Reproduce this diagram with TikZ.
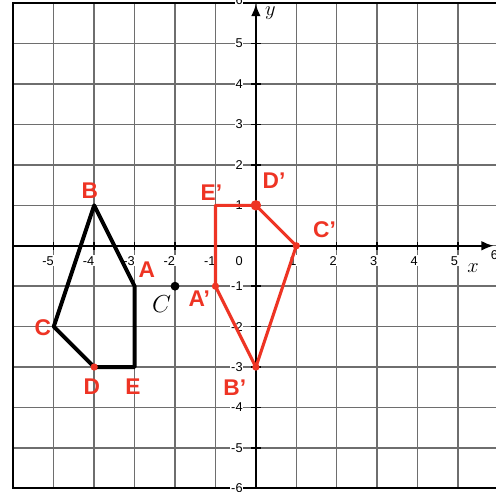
\documentclass[tikz,border=0pt]{standalone}
\usepackage{fontspec}
\setmainfont{Liberation Sans}
\usepackage{tikz}
\usetikzlibrary{arrows.meta}
\definecolor{GridGray}{RGB}{110,110,110}
\definecolor{PenRed}{RGB}{238,52,36}

\begin{document}
\begin{tikzpicture}[
  gridline/.style={draw=GridGray,line width=1pt},
  axisline/.style={-{Latex[length=3mm,width=2.4mm]},line width=1.4pt},
  ticklabel/.style={font=\small,fill=white,inner sep=0.6pt,anchor=east},
  origline/.style={line width=2.8pt,line join=round},
  imgline/.style={draw=PenRed,line width=2.2pt,line join=round},
  pen/.style={text=PenRed,font=\fontsize{16}{18}\selectfont\bfseries}
]
\useasboundingbox[fill=white] (-6.33,-6.08) rectangle (5.94,6.08);

% grid and frame
\foreach \i in {-5,...,5} {
  \draw[gridline] (\i,-6) -- (\i,6);
  \draw[gridline] (-6,\i) -- (6,\i);
}
\draw[line width=1.2pt] (-6,-6) rectangle (6,6);

% axes
\coordinate (xs) at (-6,0); \coordinate (xe) at (5.88,0);
\coordinate (ys) at (0,-6); \coordinate (ye) at (0,5.98);
\draw[axisline] (xs) -- (xe);
\draw[axisline] (ys) -- (ye);
\foreach \i in {-5,...,5} {
  \draw[line width=1pt] (\i,-0.1) -- (\i,0.1);
  \draw[line width=1pt] (-0.12,\i) -- (0.12,\i);
}
\foreach \i in {-5,-4,-3,-2,-1,1,2,3,4,5} {
  \node[ticklabel] at (\i+0.03,-0.37) {\i};
  \node[ticklabel] at (-0.3,\i) {\i};
}
\node[ticklabel] at (-0.3,-0.37) {0};
\node[ticklabel] at (6.02,-0.22) {6};
\node[ticklabel] at (-0.3,6.08) {6};
\node[ticklabel] at (-0.3,-6) {-6};
\node[font=\Large] (xlab) at (5.37,-0.55) {$x$};
\node[font=\Large] (ylab) at (0.36,5.75) {$y$};

% original figure
\coordinate (A) at (-3,-1);
\coordinate (B) at (-4,1);
\coordinate (C) at (-5,-2);
\coordinate (D) at (-4,-3);
\coordinate (E) at (-3,-3);
\draw[origline] (A) -- (B) -- (C) -- (D) -- (E) -- cycle;
\fill (-2,-1) circle (0.11);
\node[font=\LARGE] (ctr) at (-2.33,-1.45) {$C$};

% rotated figure
\coordinate (A1) at (-1,-1);
\coordinate (B1) at (0,-3);
\coordinate (C1) at (1,0);
\coordinate (D1) at (0,1);
\coordinate (E1) at (-1,1);
\draw[imgline] (E1) -- (D1) -- (C1) -- (B1) -- (A1) -- cycle;
\fill[PenRed] (D1) circle (0.13);
\foreach \p in {A1,B1,C1,D} \fill[PenRed] (\p) circle (0.09);

% handwritten labels
\node[pen] (lA) at (-2.7,-0.59) {A};
\node[pen] (lB) at (-4.11,1.37) {B};
\node[pen] (lC) at (-5.27,-2.03) {C};
\node[pen] (lD) at (-4.06,-3.48) {D};
\node[pen] (lE) at (-3.04,-3.48) {E};
\node[pen] (lA1) at (-1.4,-1.32) {A'};
\node[pen] (lB1) at (-0.52,-3.5) {B'};
\node[pen] (lC1) at (1.7,0.39) {C'};
\node[pen] (lD1) at (0.45,1.6) {D'};
\node[pen] (lE1) at (-1.1,1.32) {E'};
\end{tikzpicture}
\end{document}
